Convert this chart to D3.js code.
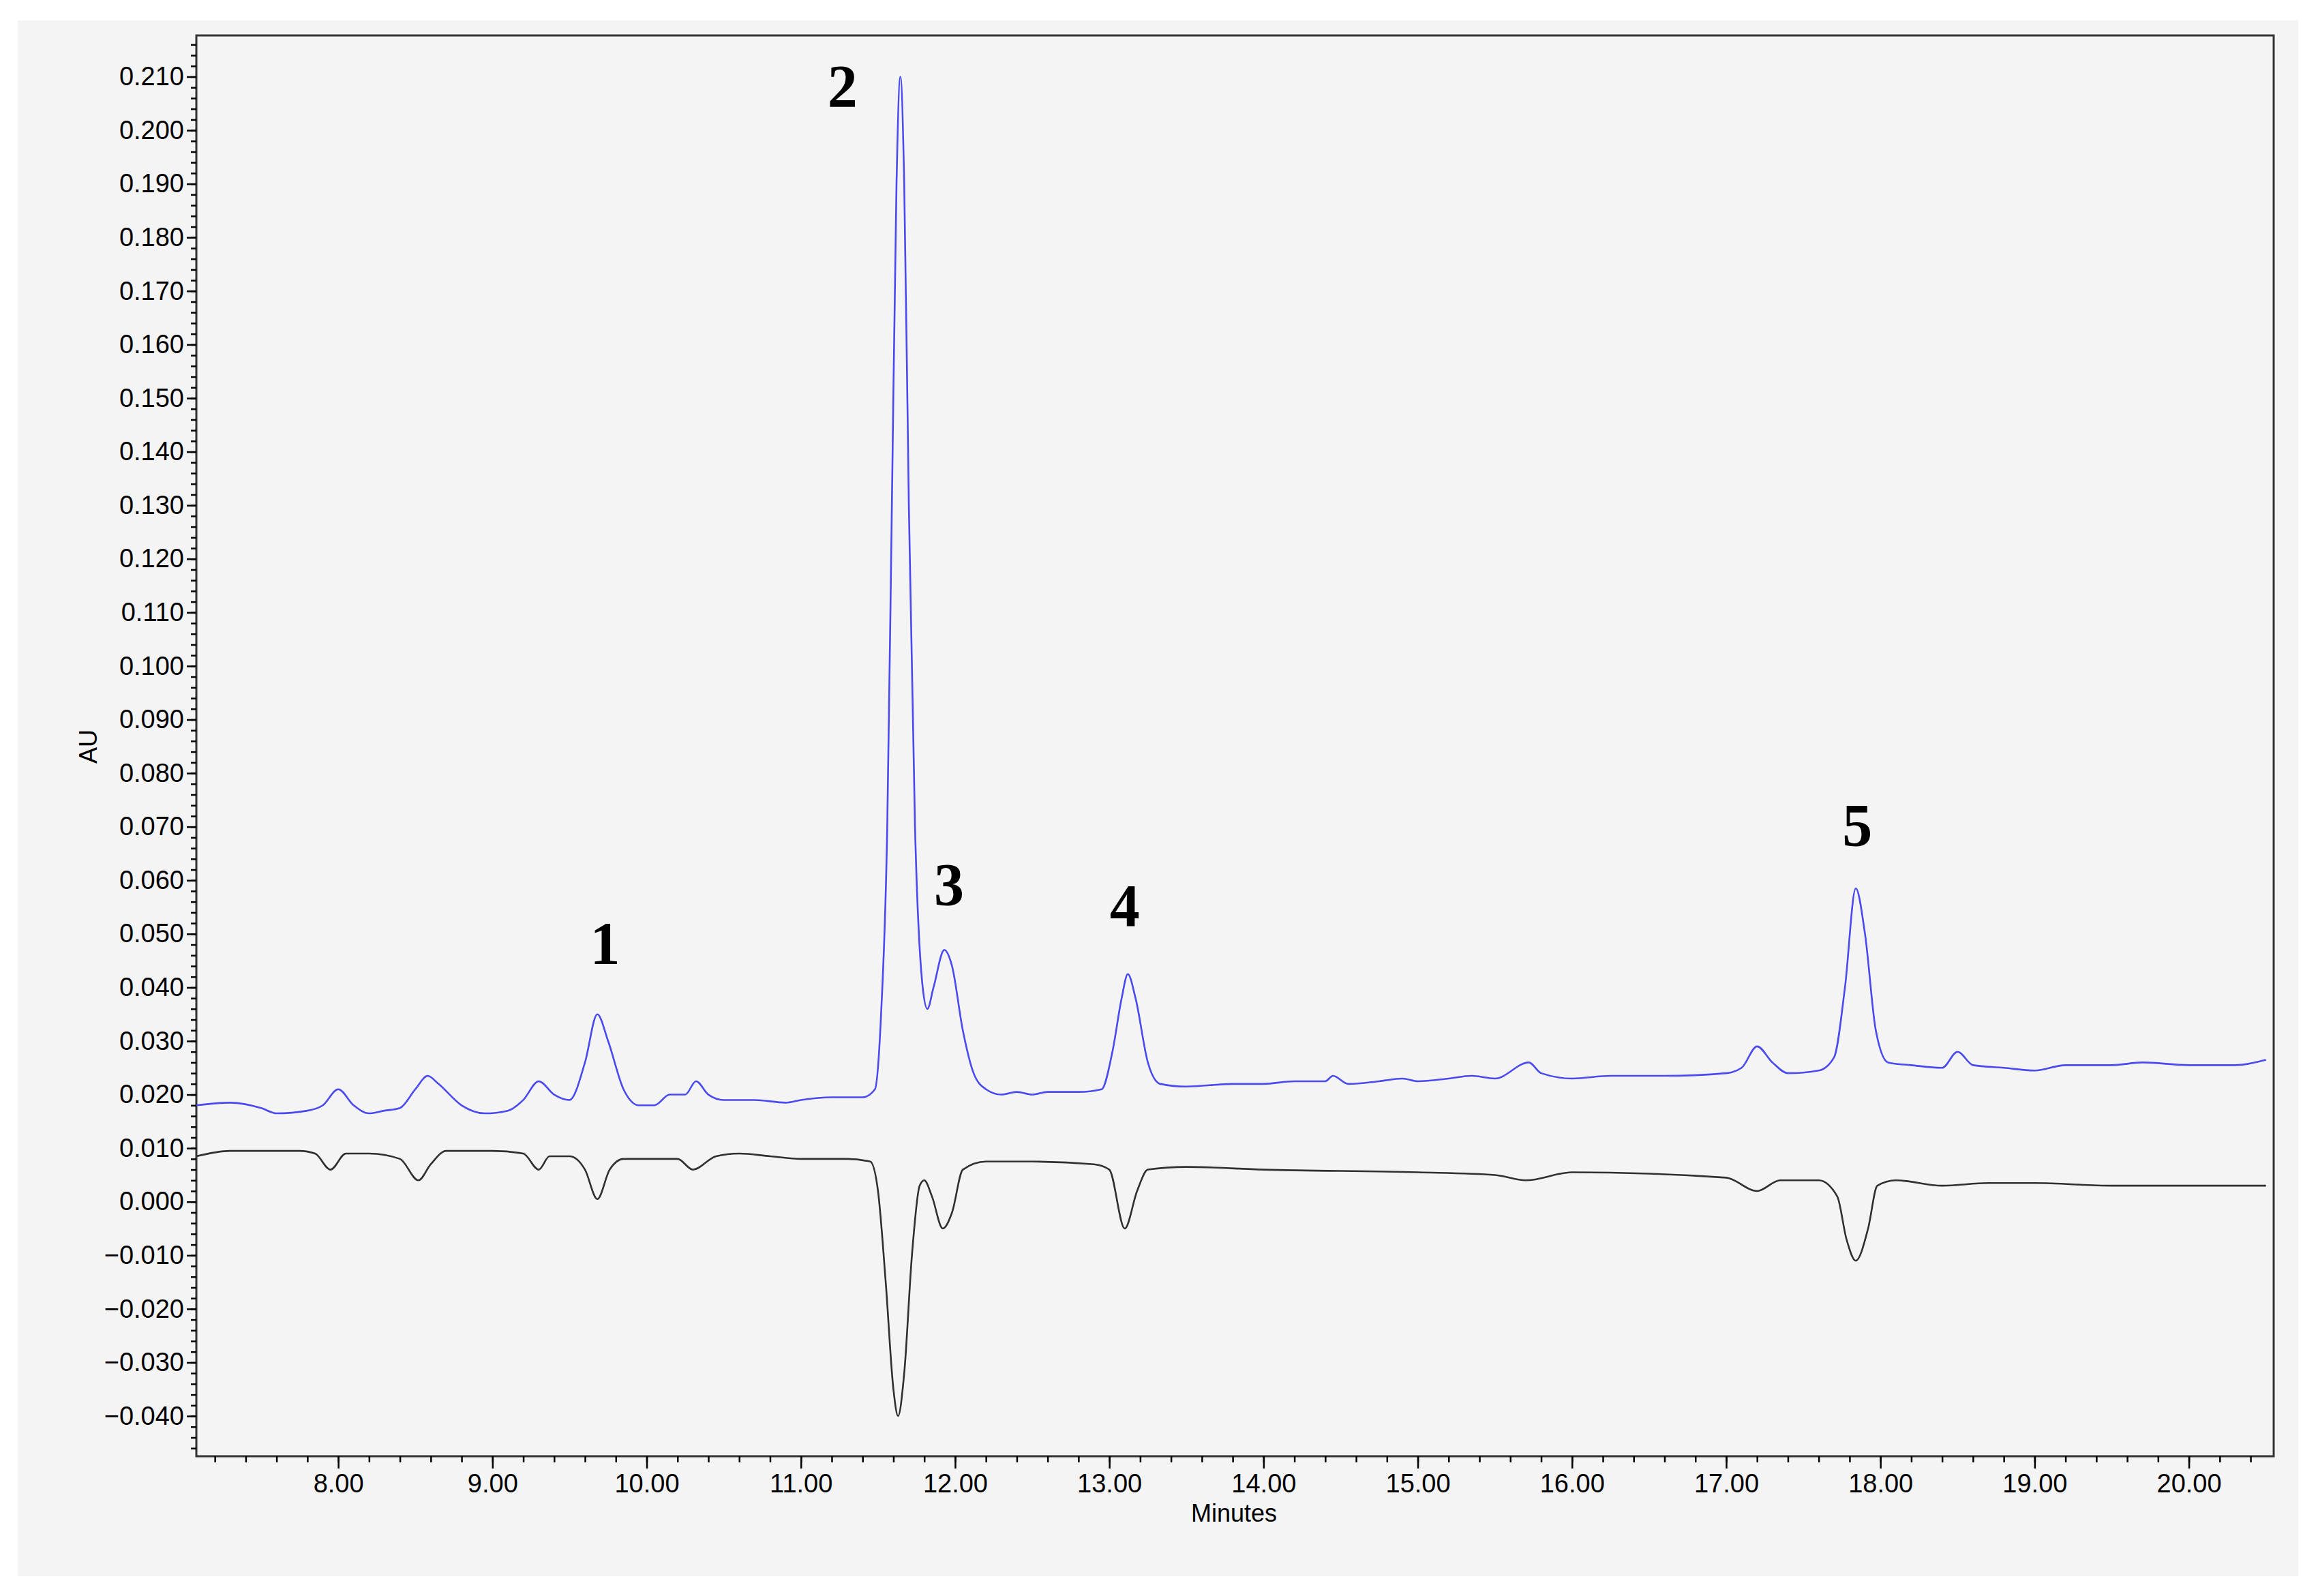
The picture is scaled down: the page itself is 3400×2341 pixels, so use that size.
<!DOCTYPE html>
<meta charset="utf-8">
<style>
  body{margin:0;background:#fff;}
  .tick text{font-family:"Liberation Sans",Arial,sans-serif;font-size:38px;fill:#000;}
  .tick line, .domain{stroke:#000;}
  .peak{font-family:"Liberation Serif","Times New Roman",serif;font-weight:bold;font-size:88px;}
</style>
<body>
<script src="https://cdn.jsdelivr.net/npm/d3@7"></script>
<script>
  // blue trace [minutes, AU]
  var blue=[[7.08,0.018],[7.3,0.0185],[7.5,0.0175],[7.6,0.0165],[7.8,0.017],[7.9,0.018],[8.0,0.021],[8.1,0.018],
    [8.2,0.0165],[8.3,0.017],[8.4,0.0175],[8.5,0.021],[8.58,0.0235],[8.65,0.022],[8.8,0.018],[8.95,0.0165],
    [9.1,0.017],[9.2,0.019],[9.3,0.0225],[9.4,0.020],[9.5,0.019],[9.6,0.026],[9.68,0.035],[9.75,0.030],
    [9.85,0.021],[9.95,0.018],[10.05,0.018],[10.15,0.020],[10.25,0.020],[10.32,0.0225],[10.4,0.020],[10.5,0.019],
    [10.7,0.019],[10.9,0.0185],[11.0,0.019],[11.2,0.0195],[11.4,0.0195],[11.48,0.021],[11.52,0.035],[11.56,0.07],
    [11.59,0.13],[11.62,0.19],[11.645,0.210],[11.67,0.19],[11.70,0.13],[11.74,0.07],[11.79,0.040],[11.82,0.036],
    [11.86,0.040],[11.93,0.047],[11.98,0.044],[12.05,0.032],[12.12,0.024],[12.2,0.021],[12.3,0.020],[12.4,0.0205],
    [12.5,0.020],[12.6,0.0205],[12.8,0.0205],[12.95,0.021],[13.02,0.028],[13.08,0.038],[13.12,0.0425],[13.17,0.038],
    [13.25,0.026],[13.33,0.022],[13.5,0.0215],[13.8,0.022],[14.0,0.022],[14.2,0.0225],[14.4,0.0225],[14.45,0.0235],
    [14.55,0.022],[14.75,0.0225],[14.9,0.023],[15.0,0.0225],[15.2,0.023],[15.35,0.0235],[15.5,0.023],[15.72,0.026],
    [15.8,0.024],[16.0,0.023],[16.25,0.0235],[16.6,0.0235],[17.0,0.024],[17.1,0.025],[17.2,0.029],[17.3,0.026],
    [17.4,0.024],[17.6,0.0245],[17.7,0.027],[17.77,0.040],[17.84,0.0585],[17.9,0.050],[17.97,0.032],[18.05,0.026],
    [18.2,0.0255],[18.4,0.025],[18.5,0.028],[18.6,0.0255],[18.8,0.025],[19.0,0.0245],[19.2,0.0255],[19.5,0.0255],
    [19.7,0.026],[20.0,0.0255],[20.3,0.0255],[20.5,0.0265]];
  // black trace [minutes, AU]
  var black=[[7.08,0.0085],[7.3,0.0095],[7.6,0.0095],[7.75,0.0095],[7.85,0.009],[7.95,0.006],[8.05,0.009],[8.2,0.009],
    [8.4,0.008],[8.52,0.004],[8.6,0.007],[8.7,0.0095],[9.0,0.0095],[9.2,0.009],[9.3,0.006],[9.37,0.0085],[9.5,0.0085],
    [9.6,0.006],[9.68,0.0005],[9.76,0.006],[9.85,0.008],[10.0,0.008],[10.2,0.008],[10.3,0.006],[10.45,0.0085],
    [10.6,0.009],[10.8,0.0085],[11.0,0.008],[11.3,0.008],[11.45,0.0075],[11.5,0.002],[11.55,-0.015],[11.6,-0.035],
    [11.63,-0.040],[11.67,-0.032],[11.72,-0.010],[11.77,0.003],[11.8,0.004],[11.85,0.001],[11.92,-0.005],
    [11.98,-0.002],[12.05,0.006],[12.2,0.0075],[12.5,0.0075],[12.9,0.007],[13.0,0.006],[13.1,-0.005],[13.18,0.002],
    [13.25,0.006],[13.5,0.0065],[14.0,0.006],[15.0,0.0055],[15.5,0.005],[15.7,0.004],[16.0,0.0055],[17.0,0.0045],
    [17.2,0.002],[17.35,0.004],[17.6,0.004],[17.72,0.001],[17.78,-0.007],[17.84,-0.011],[17.92,-0.005],[17.98,0.003],
    [18.1,0.004],[18.4,0.003],[18.7,0.0035],[19.0,0.0035],[19.5,0.003],[20.0,0.003],[20.5,0.003]];
  var peakLabels=[["1",9.73,0.0445],["2",11.27,0.2045],["3",11.96,0.0555],["4",13.10,0.0515],["5",17.85,0.0665]];
  var xTicks=d3.range(8,20.01,1);
  var yTicks=d3.range(-0.04,0.2101,0.01);

  var W=3400,H=2341,L=288,R=3335,T=52,B=2136;
  var svg=d3.select("body").append("svg").attr("width",W).attr("height",H);
  svg.append("rect").attr("x",26).attr("y",30).attr("width",3345).attr("height",2282).attr("fill","#f4f4f4");

  var x=d3.scaleLinear().domain([7.08,20.55]).range([L,R]);
  var y=d3.scaleLinear().domain([-0.0475,0.2177]).range([B,T]);

  svg.append("rect").attr("x",L).attr("y",T).attr("width",R-L).attr("height",B-T)
    .attr("fill","none").attr("stroke","#333").attr("stroke-width",3);

  // minor ticks
  svg.append("g").attr("transform","translate(0,"+B+")")
    .call(d3.axisBottom(x).tickValues(d3.range(7.2,20.55,0.2)).tickSize(9).tickFormat(""))
    .call(g=>g.select(".domain").remove()).selectAll("line").attr("stroke-width",2.5);
  svg.append("g").attr("transform","translate("+L+",0)")
    .call(d3.axisLeft(y).tickValues(d3.range(-0.046,0.217,0.002)).tickSize(8).tickFormat(""))
    .call(g=>g.select(".domain").remove()).selectAll("line").attr("stroke-width",2.5);

  var xa=svg.append("g").attr("transform","translate(0,"+B+")")
    .call(d3.axisBottom(x).tickValues(xTicks).tickSize(18).tickPadding(8).tickFormat(d3.format(".2f")));
  xa.select(".domain").remove(); xa.selectAll("line").attr("stroke-width",2.5);
  var ya=svg.append("g").attr("transform","translate("+L+",0)")
    .call(d3.axisLeft(y).tickValues(yTicks).tickSize(14).tickPadding(4).tickFormat(d3.format(".3f")));
  ya.select(".domain").remove(); ya.selectAll("line").attr("stroke-width",2.5);
  ya.selectAll("text").text(d=>d3.format(".3f")(Math.abs(d)<1e-9?0:d));

  var line=d3.line().x(d=>x(d[0])).y(d=>y(d[1])).curve(d3.curveMonotoneX);
  svg.append("path").datum(black).attr("d",line).attr("fill","none").attr("stroke","#303030").attr("stroke-width",2.6);
  svg.append("path").datum(blue).attr("d",line).attr("fill","none").attr("stroke","#4a4af0").attr("stroke-width",2.6);

  svg.selectAll(".peak").data(peakLabels).enter().append("text").attr("class","peak")
    .attr("x",d=>x(d[1])).attr("y",d=>y(d[2])).attr("text-anchor","middle").text(d=>d[0]);

  svg.append("text").attr("x",1810).attr("y",2232).attr("text-anchor","middle")
    .style("font-family","Liberation Sans,Arial,sans-serif").style("font-size","36px").text("Minutes");
  svg.append("text").attr("transform","translate(142,1095) rotate(-90)").attr("text-anchor","middle")
    .style("font-family","Liberation Sans,Arial,sans-serif").style("font-size","36px").text("AU");
</script>
</body>
</html>
